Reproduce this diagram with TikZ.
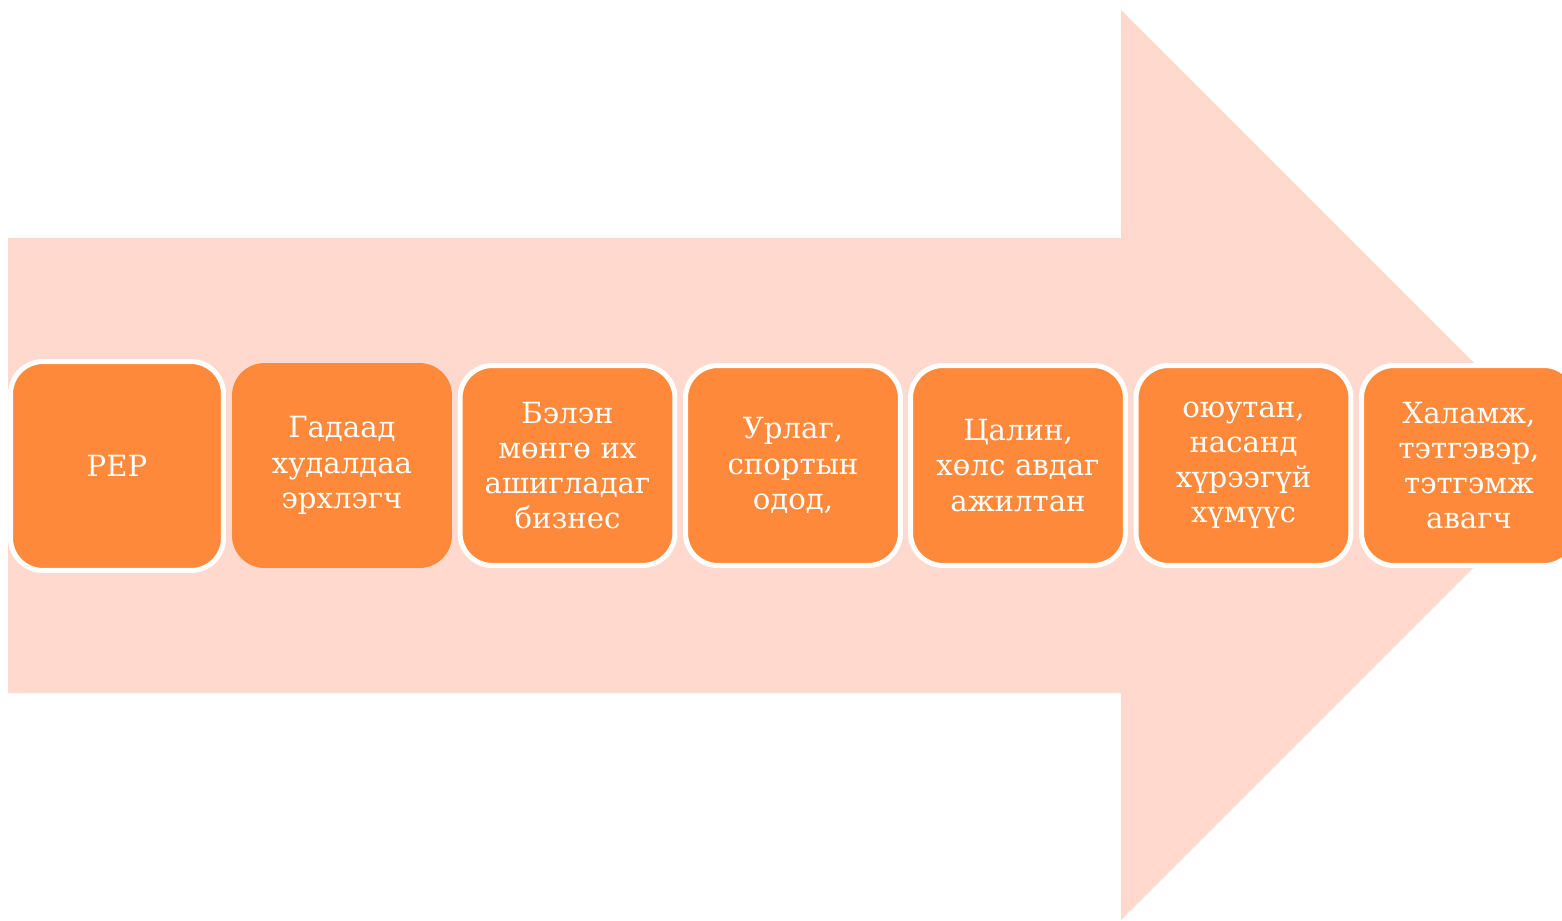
\documentclass[tikz,border=0pt]{standalone}
\usepackage{fontspec}
\setmainfont{DejaVu Serif}
\usetikzlibrary{positioning}
\definecolor{arrowpink}{RGB}{255,217,206}
\definecolor{boxorange}{RGB}{254,137,58}
\tikzset {
  stagebox/.style={rounded corners=0.65cm,fill=boxorange,draw=white,line width=0.1cm,
    minimum width=4.3cm,minimum height=4cm,text width=4cm,align=center,
    text=white,font=\fontsize{16.6}{20}\selectfont},
}

\begin{document}
\begin{tikzpicture}[x=0.02cm,y=-0.02cm]
          \useasboundingbox (0,0) rectangle (1562,920);
          \clip (0,0) rectangle (1562,920);
          % big arrow behind the boxes
          \fill[arrowpink] (8,238) -- (1121,238) -- (1121,10) -- (1576,465)
            -- (1121,920) -- (1121,693) -- (8,693) -- cycle;
          \node[stagebox,minimum width=4.26cm,minimum height=4.18cm] (rep) at (117,466) {PEP};
          \node[stagebox,draw=none,minimum width=4.4cm,minimum height=4.1cm] (trade) at (342,465.5) {Гадаад\\худалдаа\\эрхлэгч};
          \node[stagebox] (cash) at (567.5,465.5) {Бэлэн\\мөнгө их\\ашигладаг\\бизнес};
          \node[stagebox] (art) at (793,465.5) {Урлаг,\\спортын\\одод,};
          \node[stagebox] (wage) at (1018,465.5) {Цалин,\\хөлс авдаг\\ажилтан};
          \node[stagebox] (youth) at (1243.5,465.5) {оюутан,\\насанд\\хүрээгүй\\хүмүүс};
          \node[stagebox] (aid) at (1469,465.5) {Халамж,\\тэтгэвэр,\\тэтгэмж\\авагч};
        \end{tikzpicture}
\end{document}
